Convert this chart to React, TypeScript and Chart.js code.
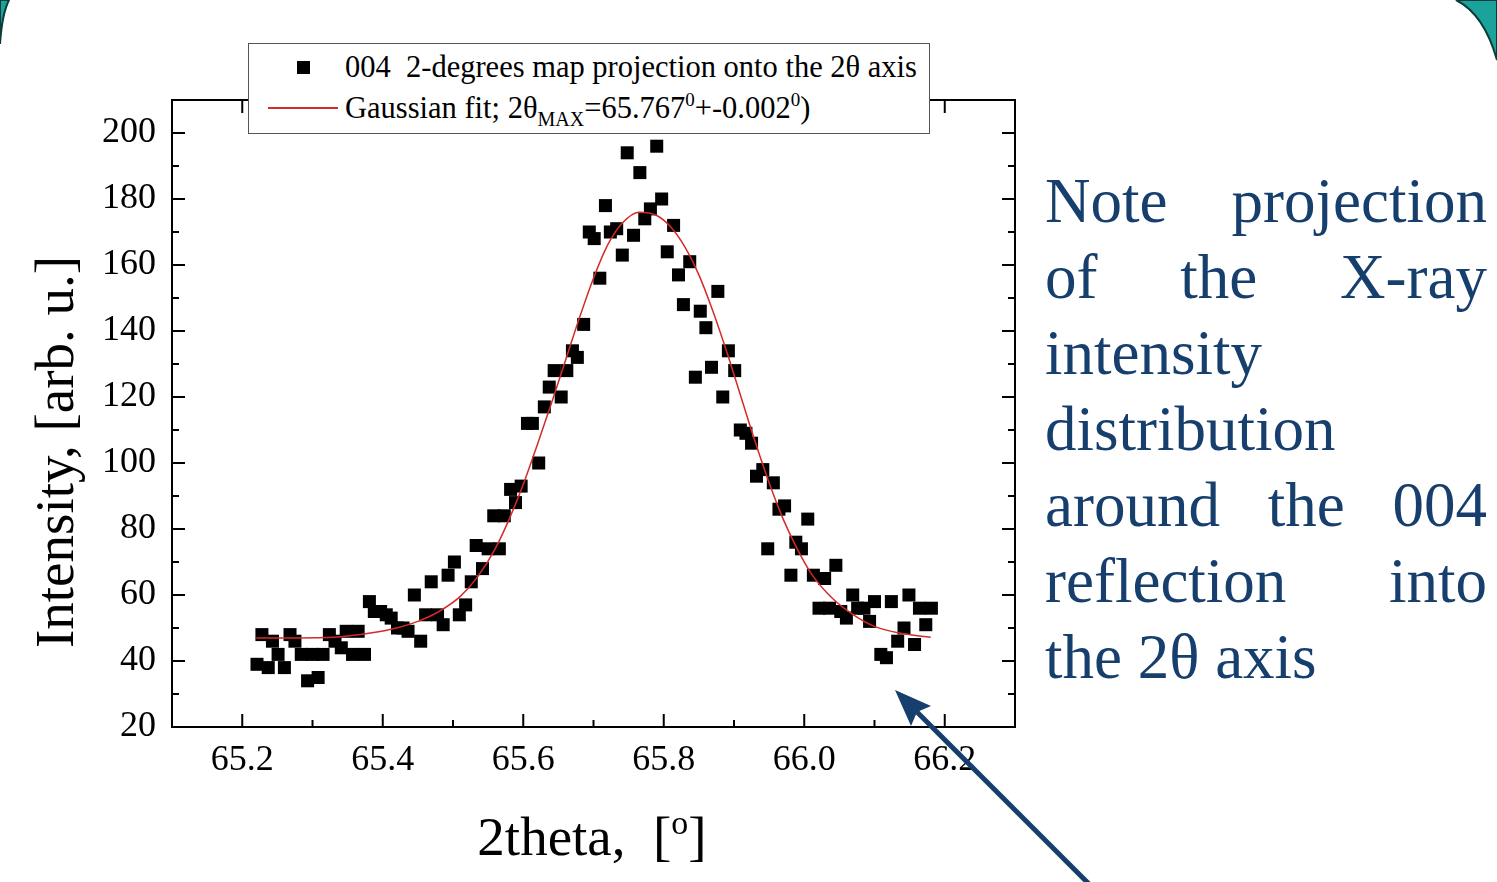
import React, { useEffect, useRef } from "react";
import { Chart, registerables } from "chart.js";

Chart.register(...registerables);

// measured points: 2theta [deg]
const thetaValues = [
  65.221, 65.228, 65.237, 65.243, 65.251, 65.26, 65.268, 65.275, 65.284, 65.293,
  65.3, 65.308, 65.315, 65.324, 65.332, 65.341, 65.348, 65.357, 65.365, 65.374,
  65.381, 65.388, 65.397, 65.405, 65.412, 65.421, 65.429, 65.436, 65.445, 65.454,
  65.461, 65.469, 65.478, 65.486, 65.493, 65.502, 65.509, 65.518, 65.526, 65.533,
  65.542, 65.55, 65.558, 65.566, 65.573, 65.582, 65.589, 65.597, 65.606, 65.613,
  65.622, 65.63, 65.637, 65.644, 65.654, 65.662, 65.67, 65.677, 65.686, 65.694,
  65.701, 65.709, 65.717, 65.724, 65.733, 65.741, 65.748, 65.757, 65.766, 65.773,
  65.781, 65.79, 65.797, 65.805, 65.814, 65.821, 65.828, 65.837, 65.845, 65.852,
  65.86, 65.868, 65.877, 65.884, 65.892, 65.901, 65.909, 65.917, 65.925, 65.932,
  65.941, 65.948, 65.956, 65.964, 65.972, 65.981, 65.988, 65.996, 66.005, 66.013,
  66.021, 66.029, 66.036, 66.045, 66.052, 66.06, 66.069, 66.076, 66.085, 66.093,
  66.1, 66.109, 66.117, 66.124, 66.133, 66.142, 66.149, 66.157, 66.164, 66.173, 66.181,
];
// measured points: intensity [arb. u.]
const intensityValues = [
  39, 48, 38, 46, 42, 38, 48, 46, 42, 34,
  42, 35, 42, 48, 46, 44, 49, 42, 49, 42,
  58, 55, 55, 54, 53, 50, 50, 49, 60, 46,
  54, 64, 54, 51, 66, 70, 54, 57, 64, 75,
  68, 74, 84, 74, 84, 92, 88, 93, 112, 112,
  100, 117, 123, 128, 120, 128, 134, 132, 142, 170,
  168, 156, 178, 170, 171, 163, 194, 169, 188, 174,
  177, 196, 180, 164, 172, 157, 148, 161, 126, 146,
  141, 129, 152, 120, 134, 128, 110, 109, 106, 96,
  98, 74, 94, 86, 87, 66, 76, 74, 83, 66,
  56, 65, 56, 69, 55, 53, 60, 56, 56, 52,
  58, 42, 41, 58, 46, 50, 60, 45, 56, 51, 56,
];
// Gaussian fit curve
const fitTheta = [
  65.22, 65.28, 65.33, 65.38, 65.42, 65.45, 65.48, 65.51, 65.535, 65.56,
  65.58, 65.6, 65.62, 65.64, 65.66, 65.68, 65.7, 65.72, 65.74, 65.765,
  65.79, 65.81, 65.83, 65.85, 65.87, 65.89, 65.91, 65.93, 65.95, 65.97,
  65.99, 66.01, 66.04, 66.07, 66.1, 66.14, 66.18,
];
const fitIntensity = [
  47, 47, 47.2, 48.4, 50, 52, 55, 59.5, 65.5, 74,
  83, 93.5, 105.5, 118, 131, 144, 156, 166, 172.5, 176,
  175, 171.5, 165.5, 157, 146, 133.5, 120, 106.5, 94, 83,
  74, 66.5, 59, 54, 50.5, 48.3, 47.2,
];

const xMajorTicks = [65.2, 65.4, 65.6, 65.8, 66.0, 66.2];
const xMinorTicks = [65.3, 65.5, 65.7, 65.9, 66.1];
const yMajorTicks = [20, 40, 60, 80, 100, 120, 140, 160, 180, 200];
const yMinorTicks = [30, 50, 70, 90, 110, 130, 150, 170, 190];

const SERIF = '"Liberation Serif", "Times New Roman", serif';
const NAVY = "#173f6d";

const framePlugin = {
  id: "frameTicks",
  afterDatasetsDraw(chart: any) {
    const { ctx, chartArea: a, scales } = chart;
    ctx.save();
    ctx.strokeStyle = "#000";
    ctx.lineWidth = 2;
    ctx.strokeRect(a.left, a.top, a.right - a.left, a.bottom - a.top);
    const seg = (x1: number, y1: number, x2: number, y2: number) => {
      ctx.beginPath();
      ctx.moveTo(x1, y1);
      ctx.lineTo(x2, y2);
      ctx.stroke();
    };
    const MAJ = 13;
    const MIN = 7;
    xMajorTicks.forEach((v) => {
      const x = scales.x.getPixelForValue(v);
      seg(x, a.bottom, x, a.bottom - MAJ);
      seg(x, a.top, x, a.top + MAJ);
    });
    xMinorTicks.forEach((v) => {
      const x = scales.x.getPixelForValue(v);
      seg(x, a.bottom, x, a.bottom - MIN);
      seg(x, a.top, x, a.top + MIN);
    });
    yMajorTicks.forEach((v) => {
      const y = scales.y.getPixelForValue(v);
      seg(a.left, y, a.left + MAJ, y);
      seg(a.right, y, a.right - MAJ, y);
    });
    yMinorTicks.forEach((v) => {
      const y = scales.y.getPixelForValue(v);
      seg(a.left, y, a.left + MIN, y);
      seg(a.right, y, a.right - MIN, y);
    });
    ctx.restore();
  },
};

export default function App() {
  const canvasRef = useRef<HTMLCanvasElement | null>(null);

  useEffect(() => {
    if (!canvasRef.current) return;
    const chart = new Chart(canvasRef.current, {
      type: "scatter",
      data: {
        datasets: [
          {
            label: "Gaussian fit",
            data: fitTheta.map((x, i) => ({ x, y: fitIntensity[i] })),
            showLine: true,
            borderColor: "#d42a2a",
            borderWidth: 1.5,
            pointRadius: 0,
            cubicInterpolationMode: "monotone",
            order: 0,
          } as any,
          {
            label: "004  2-degrees map projection onto the 2θ axis",
            data: thetaValues.map((x, i) => ({ x, y: intensityValues[i] })),
            pointStyle: "rect",
            pointRadius: 9.2,
            backgroundColor: "#000",
            borderColor: "#000",
            borderWidth: 0,
            order: 1,
          } as any,
        ],
      },
      options: {
        animation: false,
        responsive: false,
        maintainAspectRatio: false,
        devicePixelRatio: 1,
        layout: { padding: { top: 100, right: 482, left: 0, bottom: 0 } },
        plugins: {
          legend: { display: false },
          tooltip: { enabled: false },
        },
        scales: {
          x: {
            type: "linear",
            min: 65.1,
            max: 66.3,
            grid: { display: false, drawTicks: false, tickLength: 0 },
            border: { display: false },
            ticks: {
              font: { family: SERIF, size: 36 },
              color: "#000",
              padding: 12,
              maxRotation: 0,
              autoSkip: false,
              callback: (v: any) => Number(v).toFixed(1),
            },
            afterBuildTicks: (s: any) => {
              s.ticks = xMajorTicks.map((v) => ({ value: v }));
            },
            afterFit: (s: any) => {
              s.height = 155;
            },
          },
          y: {
            type: "linear",
            min: 20,
            max: 210,
            grid: { display: false, drawTicks: false, tickLength: 0 },
            border: { display: false },
            ticks: {
              font: { family: SERIF, size: 36 },
              color: "#000",
              padding: 16,
              autoSkip: false,
              callback: (v: any) => String(v),
            },
            afterBuildTicks: (s: any) => {
              s.ticks = yMajorTicks.map((v) => ({ value: v }));
            },
            afterFit: (s: any) => {
              s.width = 172;
            },
          },
        },
      } as any,
      plugins: [framePlugin],
    });
    return () => chart.destroy();
  }, []);

  const noteLines: [string, boolean][] = [
    ["Note projection", true],
    ["of the X-ray", true],
    ["intensity", false],
    ["distribution", false],
    ["around the 004", true],
    ["reflection into", true],
    ["the 2θ axis", false],
  ];

  return (
    <div
      style={{
        position: "fixed",
        left: 0,
        top: 0,
        width: 1497,
        height: 882,
        background: "#fff",
        overflow: "hidden",
      }}
    >
      <canvas
        ref={canvasRef}
        width={1497}
        height={882}
        style={{ position: "absolute", left: 0, top: 0, width: 1497, height: 882 }}
      />

      {/* legend */}
      <div
        style={{
          position: "absolute",
          left: 248,
          top: 43,
          width: 682,
          height: 91,
          boxSizing: "border-box",
          border: "1px solid #555",
          background: "#fff",
          fontFamily: SERIF,
          fontSize: 30.5,
          color: "#000",
        }}
      >
        <div style={{ position: "absolute", left: 48, top: 17, width: 13, height: 13, background: "#000" }} />
        <div style={{ position: "absolute", left: 96, top: 8, lineHeight: "30px", whiteSpace: "pre" }}>
          004  2-degrees map projection onto the 2θ axis
        </div>
        <div style={{ position: "absolute", left: 19, top: 63, width: 70, height: 1.5, background: "#d42a2a" }} />
        <div style={{ position: "absolute", left: 96, top: 49, lineHeight: "30px", whiteSpace: "pre" }}>
          Gaussian fit; 2θ
          <span style={{ fontSize: 20, position: "relative", top: 8 }}>MAX</span>
          =65.767
          <span style={{ fontSize: 19, position: "relative", top: -12 }}>0</span>
          +-0.002
          <span style={{ fontSize: 19, position: "relative", top: -12 }}>0</span>)
        </div>
      </div>

      {/* axis titles */}
      <div
        style={{
          position: "absolute",
          left: 55,
          top: 452,
          transform: "translate(-50%, -50%) rotate(-90deg)",
          whiteSpace: "nowrap",
          fontFamily: SERIF,
          fontSize: 55,
          lineHeight: "58px",
          color: "#000",
        }}
      >
        Intensity, [arb. u.]
      </div>
      <div
        style={{
          position: "absolute",
          left: 592,
          top: 840,
          transform: "translate(-50%, -50%)",
          whiteSpace: "pre",
          fontFamily: SERIF,
          fontSize: 55,
          lineHeight: "58px",
          color: "#000",
        }}
      >
        2theta,  [<span style={{ fontSize: 34, position: "relative", top: -21 }}>o</span>]
      </div>

      {/* note */}
      <div
        style={{
          position: "absolute",
          left: 1045,
          top: 163,
          width: 442,
          fontFamily: SERIF,
          fontSize: 63,
          color: NAVY,
        }}
      >
        {noteLines.map(([t, j], i) => (
          <div
            key={i}
            style={{
              height: 76,
              lineHeight: "76px",
              whiteSpace: "nowrap",
              textAlign: j ? "justify" : "left",
              textAlignLast: j ? "justify" : "left",
            } as any}
          >
            {t}
          </div>
        ))}
      </div>

      {/* decorations: arrow and slide corners */}
      <svg
        width={1497}
        height={882}
        style={{ position: "absolute", left: 0, top: 0, pointerEvents: "none" }}
      >
        <line x1={1092} y1={887} x2={912} y2={707} stroke={NAVY} strokeWidth={5} />
        <polygon points="895,690 931,706 917,712 911,726" fill={NAVY} />
        <path d="M1456,0 Q1484,14 1497,60 L1497,0 Z" fill="#1aa39b" stroke="#0d3b3a" strokeWidth={2} />
        <path d="M0,0 L9,0 Q2,14 0,44 Z" fill="#1aa39b" stroke="#0d3b3a" strokeWidth={2} />
      </svg>
    </div>
  );
}
